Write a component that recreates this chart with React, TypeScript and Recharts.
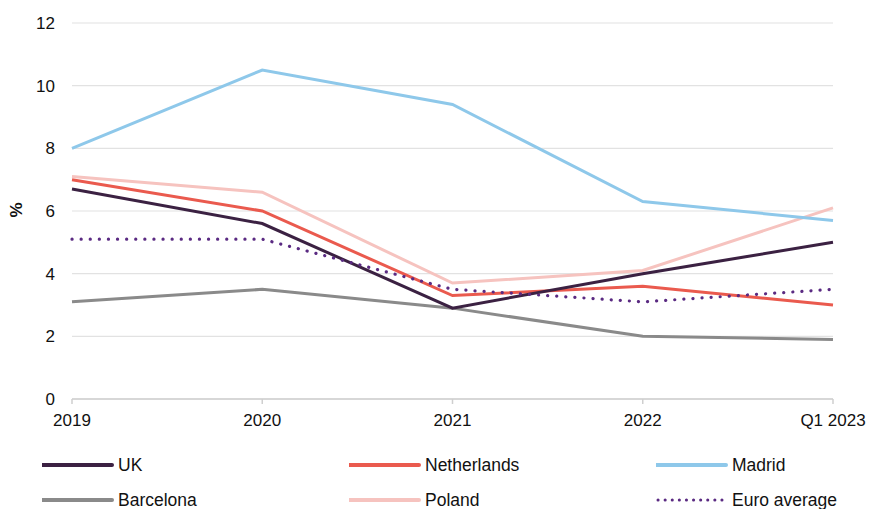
import { LineChart, Line, XAxis, YAxis, CartesianGrid } from "recharts";

const PERIODS = ["2019", "2020", "2021", "2022", "Q1 2023"];

const UK = [6.7, 5.6, 2.9, 4.0, 5.0];
const NETHERLANDS = [7.0, 6.0, 3.3, 3.6, 3.0];
const MADRID = [8.0, 10.5, 9.4, 6.3, 5.7];
const BARCELONA = [3.1, 3.5, 2.9, 2.0, 1.9];
const POLAND = [7.1, 6.6, 3.7, 4.1, 6.1];
const EURO_AVERAGE = [5.1, 5.1, 3.5, 3.1, 3.5];

const Y_TICKS = [0, 2, 4, 6, 8, 10, 12];

// legend order (3 columns x 2 rows) - draw order is set below
const SERIES = [
  { key: "uk", name: "UK", values: UK, color: "#3b2142", dotted: false },
  { key: "nl", name: "Netherlands", values: NETHERLANDS, color: "#ea5a4e", dotted: false },
  { key: "madrid", name: "Madrid", values: MADRID, color: "#8ec8ea", dotted: false },
  { key: "barcelona", name: "Barcelona", values: BARCELONA, color: "#8a8a8a", dotted: false },
  { key: "poland", name: "Poland", values: POLAND, color: "#f6c3bf", dotted: false },
  { key: "euro", name: "Euro average", values: EURO_AVERAGE, color: "#5a2a82", dotted: true },
];

const DRAW_ORDER = ["poland", "madrid", "barcelona", "nl", "uk", "euro"];

const data = PERIODS.map((p, i) => {
  const row: Record<string, string | number> = { period: p };
  SERIES.forEach((s) => (row[s.key] = s.values[i]));
  return row;
});

const FONT = "'Liberation Sans', Arial, sans-serif";
const tick = { fontSize: 17, fill: "#111", fontFamily: FONT };

const LEGEND_COLS = [42, 349, 656];
const LEGEND_ROWS = [465, 500];

export default function App() {
  return (
    <div style={{ position: "relative", width: 871, height: 509, background: "#fff", fontFamily: FONT, overflow: "hidden" }}>
      <style>{"html,body{margin:0;padding:0;overflow:hidden}"}</style>
      <LineChart width={871} height={509} data={data} margin={{ top: 23, right: 38, left: 0, bottom: 80 }}>
        <CartesianGrid vertical={false} stroke="#e2e2e2" strokeWidth={1.2} />
        <XAxis
          dataKey="period"
          tick={tick}
          tickSize={5}
          tickMargin={10}
          height={30}
          interval={0}
          stroke="#cfcfcf"
          strokeWidth={1.5}
        />
        <YAxis
          domain={[0, 12]}
          ticks={Y_TICKS}
          width={72}
          tick={tick}
          axisLine={false}
          tickLine={false}
          tickSize={6}
          tickMargin={11}
        />
        {DRAW_ORDER.map((k) => {
          const s = SERIES.find((x) => x.key === k)!;
          return (
            <Line
              key={s.key}
              dataKey={s.key}
              name={s.name}
              type="linear"
              stroke={s.color}
              strokeWidth={s.dotted ? 3.2 : 3}
              strokeDasharray={s.dotted ? "0.1 9" : undefined}
              strokeLinecap={s.dotted ? "round" : "butt"}
              dot={false}
              activeDot={false}
              isAnimationActive={false}
            />
          );
        })}
      </LineChart>

      <div
        style={{
          position: "absolute",
          left: 17,
          top: 210,
          transform: "translate(-50%, -50%) rotate(-90deg)",
          fontSize: 17,
          fontWeight: 700,
          color: "#111",
        }}
      >
        %
      </div>

      {SERIES.map((s, i) => {
        const x = LEGEND_COLS[i % 3];
        const y = LEGEND_ROWS[Math.floor(i / 3)];
        return (
          <div key={s.key} style={{ position: "absolute", left: x, top: y - 12, height: 24, display: "flex", alignItems: "center" }}>
            <svg width={72} height={8} style={{ display: "block" }}>
              <line
                x1={s.dotted ? 2 : 0}
                y1={4}
                x2={70}
                y2={4}
                stroke={s.color}
                strokeWidth={s.dotted ? 3 : 4}
                strokeDasharray={s.dotted ? "0.1 7" : undefined}
                strokeLinecap="round"
              />
            </svg>
            <span style={{ marginLeft: 4, fontSize: 17.5, color: "#111", whiteSpace: "nowrap" }}>{s.name}</span>
          </div>
        );
      })}
    </div>
  );
}
